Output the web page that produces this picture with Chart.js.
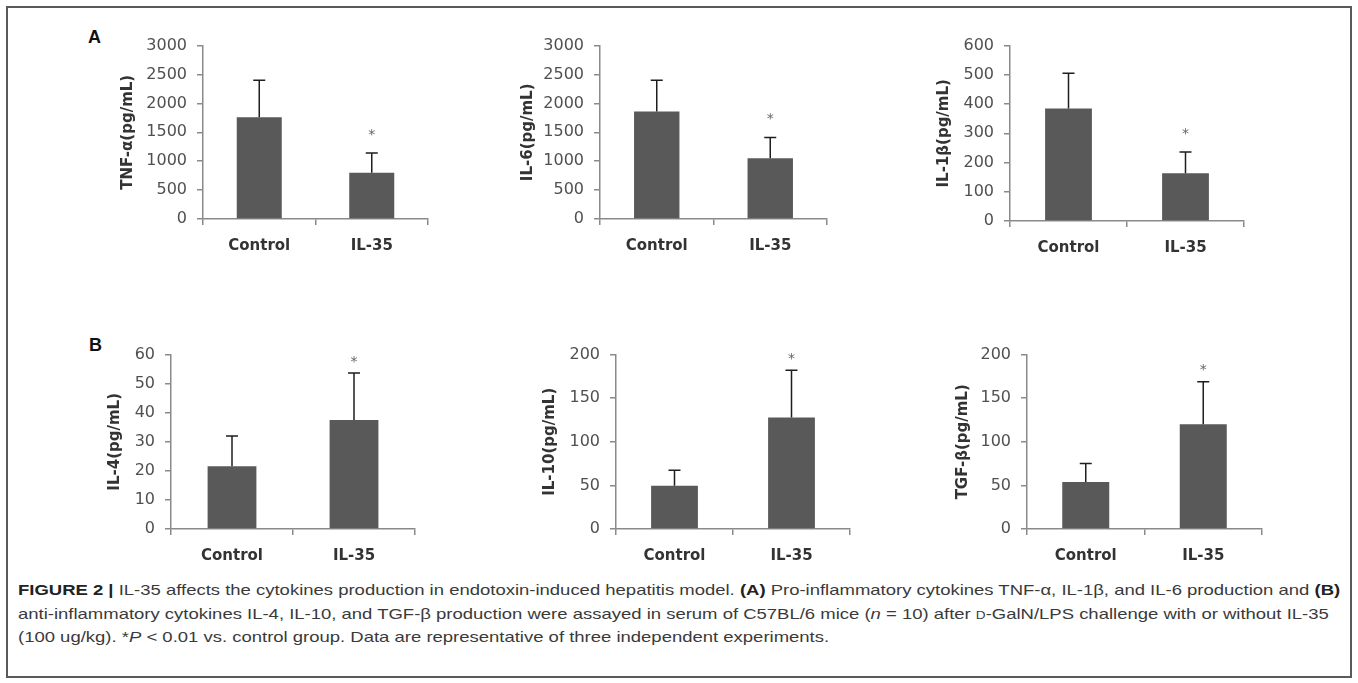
<!DOCTYPE html>
<html>
<head>
<meta charset="utf-8">
<script src="https://cdn.jsdelivr.net/npm/chart.js@4.4.1/dist/chart.umd.min.js"></script>
<style>
    html, body { margin: 0; padding: 0; background: #fff; }
    body { width: 1358px; height: 683px; position: relative; overflow: hidden; }
    .frame { position: absolute; left: 6px; top: 6px; width: 1346px; height: 672px; box-sizing: border-box; border: 2px solid #5a5a5a; }
    .panel { position: absolute; }
    .letter { position: absolute; font-family: 'Liberation Sans', Arial, sans-serif; font-weight: bold; font-size: 18px; color: #111; line-height: 18px; }
    .cap { position: absolute; left: 18px; white-space: nowrap; font-family: 'Liberation Sans', Arial, sans-serif; font-size: 15px; line-height: 20px; color: #3a3a3a; transform-origin: 0 0; }
    .cap b { color: #222; }
    .sc { font-variant: small-caps; }
</style>
</head>
<body>
<div class="frame"></div>

<div class="letter" style="left:88px; top:28px;">A</div>
<div class="letter" style="left:89px; top:336px;">B</div>

<div class="panel" id="p0"><canvas id="tnfChart"></canvas></div>
<div class="panel" id="p1"><canvas id="il6Chart"></canvas></div>
<div class="panel" id="p2"><canvas id="il1bChart"></canvas></div>
<div class="panel" id="p3"><canvas id="il4Chart"></canvas></div>
<div class="panel" id="p4"><canvas id="il10Chart"></canvas></div>
<div class="panel" id="p5"><canvas id="tgfbChart"></canvas></div>

<div class="cap" id="cap1" style="top:580px;"><b>FIGURE 2 |</b> IL-35 affects the cytokines production in endotoxin-induced hepatitis model. <b>(A)</b> Pro-inflammatory cytokines TNF-α, IL-1β, and IL-6 production and <b>(B)</b></div>
<div class="cap" id="cap2" style="top:604px;">anti-inflammatory cytokines IL-4, IL-10, and TGF-β production were assayed in serum of C57BL/6 mice (<i>n</i> = 10) after <span class="sc">d</span>-GalN/LPS challenge with or without IL-35</div>
<div class="cap" id="cap3" style="top:627px;">(100 ug/kg). *<i>P</i> &lt; 0.01 vs. control group. Data are representative of three independent experiments.</div>

<script>
// datos (media y desviación, pg/mL)
const groups = ['Control', 'IL-35'];
const significant = [false, true];

const tnfMean = [1760, 800];
const tnfSd = [640, 340];
const il6Mean = [1860, 1050];
const il6Sd = [540, 360];
const il1bMean = [385, 163];
const il1bSd = [120, 73];
const il4Mean = [21.6, 37.5];
const il4Sd = [10.4, 16.2];
const il10Mean = [49.5, 128];
const il10Sd = [18, 54];
const tgfbMean = [54, 120];
const tgfbSd = [21, 49];

const yTitles = ['TNF-α(pg/mL)', 'IL-6(pg/mL)', 'IL-1β(pg/mL)', 'IL-4(pg/mL)', 'IL-10(pg/mL)', 'TGF-β(pg/mL)'];
const yMax = [3000, 3000, 600, 60, 200, 200];
const yStep = [500, 500, 100, 10, 50, 50];

// posición de cada panel en la página
const layout = [
    { left: 119, top: 26, width: 317, height: 238, yWidth: 84, star: 22 },
    { left: 519, top: 26, width: 316, height: 238, yWidth: 81, star: 22 },
    { left: 935, top: 26, width: 317, height: 240, yWidth: 75, star: 22 },
    { left: 106, top: 335, width: 317, height: 239, yWidth: 65, star: 15 },
    { left: 541, top: 335, width: 317, height: 239, yWidth: 75, star: 15 },
    { left: 954, top: 335, width: 316, height: 239, yWidth: 73, star: 15 }
];

const axisColor = '#8a8a8a';
const barColor = '#595959';

const errorBars = {
    id: 'errorBars',
    afterDatasetsDraw(chart, args, opts) {
        const ctx = chart.ctx;
        const yScale = chart.scales.y;
        const meta = chart.getDatasetMeta(0);
        const ds = chart.data.datasets[0];
        ctx.save();
        meta.data.forEach(function(bar, i) {
            const top = yScale.getPixelForValue(ds.data[i] + ds.sd[i]);
            const base = yScale.getPixelForValue(ds.data[i]);
            ctx.strokeStyle = '#1e1e1e';
            ctx.lineWidth = 1.5;
            ctx.beginPath();
            ctx.moveTo(bar.x, base);
            ctx.lineTo(bar.x, top);
            ctx.moveTo(bar.x - 6, top);
            ctx.lineTo(bar.x + 6, top);
            ctx.stroke();
            if (significant[i]) {
                ctx.fillStyle = '#666';
                ctx.font = '14px "DejaVu Sans"';
                ctx.textAlign = 'center';
                ctx.textBaseline = 'middle';
                ctx.fillText('*', bar.x, top - opts.star + 4);
            }
        });
        ctx.restore();
    }
};

function makeChart(idx, canvasId, means, sds) {
    const box = layout[idx];
    const wrap = document.getElementById('p' + idx);
    wrap.style.left = box.left + 'px';
    wrap.style.top = box.top + 'px';
    wrap.style.width = box.width + 'px';
    wrap.style.height = box.height + 'px';

    return new Chart(document.getElementById(canvasId), {
        type: 'bar',
        data: {
            labels: groups,
            datasets: [{
                data: means,
                sd: sds,
                backgroundColor: barColor,
                borderWidth: 0,
                barPercentage: 0.4,
                categoryPercentage: 1
            }]
        },
        plugins: [errorBars],
        options: {
            responsive: true,
            maintainAspectRatio: false,
            animation: false,
            layout: { padding: { top: 10, right: 8, left: 0, bottom: 0 } },
            plugins: {
                legend: { display: false },
                tooltip: { enabled: false },
                errorBars: { star: box.star }
            },
            scales: {
                y: {
                    min: 0,
                    max: yMax[idx],
                    ticks: {
                        stepSize: yStep[idx],
                        color: '#505050',
                        padding: 10,
                        font: { family: 'DejaVu Sans', size: 16 },
                        callback: function(value) { return String(value); }
                    },
                    grid: { drawOnChartArea: false, tickLength: 6, color: axisColor, lineWidth: 1.5 },
                    border: { color: axisColor, width: 1.5 },
                    title: {
                        display: true,
                        text: yTitles[idx],
                        color: '#333',
                        padding: 0,
                        font: { family: 'DejaVu Sans', size: 15, weight: 'bold' }
                    },
                    afterFit: function(scale) { scale.width = box.yWidth; }
                },
                x: {
                    ticks: {
                        color: '#333',
                        padding: 12,
                        font: { family: 'DejaVu Sans', size: 15, weight: 'bold' }
                    },
                    grid: { offset: true, drawOnChartArea: false, tickLength: 6, color: axisColor, lineWidth: 1.5 },
                    border: { color: axisColor, width: 1.5 },
                    afterFit: function(scale) { scale.height = 45; }
                }
            }
        }
    });
}

document.addEventListener('DOMContentLoaded', function() {
    makeChart(0, 'tnfChart', tnfMean, tnfSd);
    makeChart(1, 'il6Chart', il6Mean, il6Sd);
    makeChart(2, 'il1bChart', il1bMean, il1bSd);
    makeChart(3, 'il4Chart', il4Mean, il4Sd);
    makeChart(4, 'il10Chart', il10Mean, il10Sd);
    makeChart(5, 'tgfbChart', tgfbMean, tgfbSd);

    // mismo factor de escala para las tres líneas, tomado de la primera
    const first = document.getElementById('cap1');
    const k = (1340 - 18) / first.scrollWidth;
    ['cap1', 'cap2', 'cap3'].forEach(function(id) {
        document.getElementById(id).style.transform = 'scaleX(' + k + ')';
    });
});
</script>
</body>
</html>
